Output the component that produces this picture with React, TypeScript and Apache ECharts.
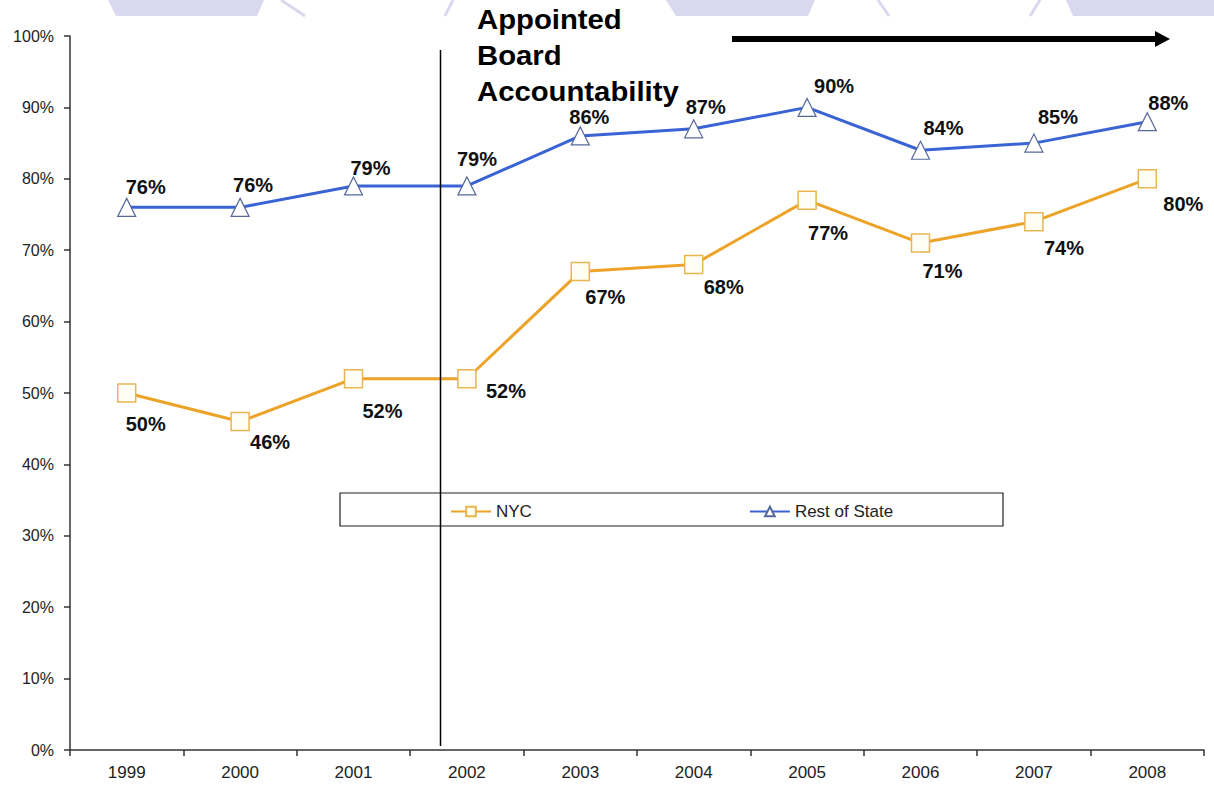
import React, { useEffect, useRef } from "react";
import * as echarts from "echarts";

const years = ["1999", "2000", "2001", "2002", "2003", "2004", "2005", "2006", "2007", "2008"];
const nycValues = [50, 46, 52, 52, 67, 68, 77, 71, 74, 80];
const restOfStateValues = [76, 76, 79, 79, 86, 87, 90, 84, 85, 88];
const yTicks = [0, 10, 20, 30, 40, 50, 60, 70, 80, 90, 100];

// label placement offsets (pixels, relative to point)
const nycLabelOffsets = [
  [19, 31], [30, 20], [29, 32], [39, 12], [25, 25],
  [30, 23], [21, 33], [22, 28], [30, 26], [36, 25],
];
const rosLabelOffsets = [
  [19, -20], [13, -22], [17, -18], [10, -27], [9, -19],
  [12, -22], [27, -21], [23, -22], [24, -26], [21, -19],
];

const FONT = "'Liberation Sans', Arial, Helvetica, sans-serif";

export default function App() {
  const ref = useRef<HTMLDivElement>(null);

  useEffect(() => {
    if (!ref.current) return;
    const chart = echarts.init(ref.current, undefined, { renderer: "svg" });

    const labelStyle = {
      show: true,
      position: "inside",
      formatter: (p: any) => p.value + "%",
      fontFamily: FONT,
      fontWeight: "bold",
      fontSize: 20,
      color: "#111",
    };

    const mkData = (vals: number[], offs: number[][]) =>
      vals.map((v, i) => ({
        value: v,
        label: { offset: offs[i] },
      }));

    const lavender = "#d9d8ee";

    chart.setOption({
      animation: false,
      backgroundColor: "#ffffff",
      grid: { left: 70, right: 10, top: 36, bottom: 41, containLabel: false },
      xAxis: {
        type: "category",
        data: years,
        boundaryGap: true,
        axisLine: { lineStyle: { color: "#333", width: 1.5 } },
        axisTick: { show: true, length: 6, inside: false, lineStyle: { color: "#333", width: 1.5 } },
        axisLabel: { fontFamily: FONT, fontSize: 17, color: "#222", margin: 14 },
        splitLine: { show: false },
      },
      yAxis: {
        type: "value",
        min: yTicks[0],
        max: yTicks[yTicks.length - 1],
        interval: 10,
        axisLine: { show: true, lineStyle: { color: "#333", width: 1.5 } },
        axisTick: { show: true, length: 6, lineStyle: { color: "#333", width: 1.5 } },
        axisLabel: { fontFamily: FONT, fontSize: 16, color: "#222", margin: 16, formatter: "{value}%" },
        splitLine: { show: false },
      },
      legend: {
        left: 450,
        top: 503,
        padding: 0,
        itemWidth: 40,
        itemHeight: 12,
        itemGap: 217,
        textStyle: { fontFamily: FONT, fontSize: 17, color: "#222" },
        data: ["NYC", "Rest of State"],
      },
      series: [
        {
          name: "NYC",
          type: "line",
          data: mkData(nycValues, nycLabelOffsets),
          symbol: "rect",
          symbolSize: 18,
          showAllSymbol: true,
          lineStyle: { color: "#eda327", width: 3 },
          itemStyle: { color: "#fffff6", borderColor: "#e8b550", borderWidth: 1.5 },
          label: labelStyle,
          z: 3,
        },
        {
          name: "Rest of State",
          type: "line",
          data: mkData(restOfStateValues, rosLabelOffsets),
          symbol: "triangle",
          symbolSize: 18,
          showAllSymbol: true,
          lineStyle: { color: "#3a63d4", width: 3 },
          itemStyle: { color: "#ffffff", borderColor: "#55689a", borderWidth: 1.2 },
          label: labelStyle,
          z: 3,
        },
      ],
      graphic: [
        // top decorative shapes
        { type: "polygon", shape: { points: [[108, 0], [264, 0], [257, 16], [116, 16]] }, style: { fill: lavender }, z: 0 },
        { type: "polygon", shape: { points: [[666, 0], [815, 0], [808, 16], [676, 16]] }, style: { fill: lavender }, z: 0 },
        { type: "polygon", shape: { points: [[1066, 0], [1214, 0], [1214, 16], [1073, 16]] }, style: { fill: lavender }, z: 0 },
        { type: "line", shape: { x1: 281, y1: 0, x2: 305, y2: 16 }, style: { stroke: lavender, lineWidth: 3 }, z: 0 },
        { type: "line", shape: { x1: 453, y1: 0, x2: 445, y2: 16 }, style: { stroke: lavender, lineWidth: 3 }, z: 0 },
        { type: "line", shape: { x1: 878, y1: 0, x2: 889, y2: 16 }, style: { stroke: lavender, lineWidth: 3 }, z: 0 },
        { type: "line", shape: { x1: 1040, y1: 0, x2: 1030, y2: 16 }, style: { stroke: lavender, lineWidth: 3 }, z: 0 },
        // legend box
        { type: "rect", shape: { x: 340, y: 493, width: 663, height: 33 }, style: { fill: "none", stroke: "#222", lineWidth: 1.2 }, z: 1 },
        // vertical divider
        { type: "line", shape: { x1: 440.5, y1: 50, x2: 440.5, y2: 746 }, style: { stroke: "#000", lineWidth: 1.5 }, z: 5 },
        // annotation text
        {
          type: "text",
          x: 477,
          y: 1,
          scaleX: 1.085,
          style: {
            text: "Appointed\nBoard\nAccountability",
            font: "bold 27px " + FONT,
            fill: "#000",
            lineHeight: 36,
            verticalAlign: "top",
            align: "left",
          },
          z: 6,
        },
        // arrow
        { type: "line", shape: { x1: 732, y1: 39, x2: 1157, y2: 39 }, style: { stroke: "#000", lineWidth: 6 }, z: 6 },
        { type: "polygon", shape: { points: [[1155, 31], [1170, 39], [1155, 47]] }, style: { fill: "#000" }, z: 6 },
      ],
    });

    return () => chart.dispose();
  }, []);

  return (
    <div
      ref={ref}
      style={{ position: "absolute", left: 0, top: 0, width: 1214, height: 791 }}
    />
  );
}
